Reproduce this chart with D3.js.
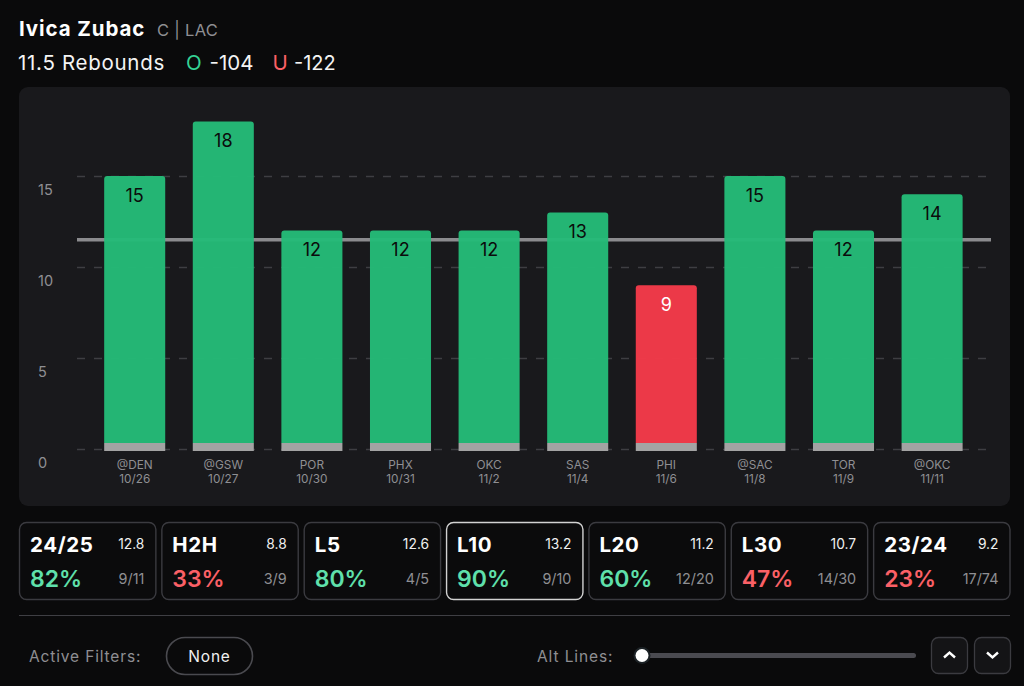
<!DOCTYPE html>
<html>
<head>
<meta charset="utf-8">
<script src="https://cdn.jsdelivr.net/npm/d3@7"></script>
<style>
  html, body { margin: 0; padding: 0; background: #0a0a0b; }
  svg { display: block; font-family: Inter, "Noto Sans", sans-serif; }
</style>
</head>
<body>
<svg id="chart" width="1024" height="686"></svg>
<script>
// chart values
const opponents = ['@DEN', '@GSW', 'POR', 'PHX', 'OKC', 'SAS', 'PHI', '@SAC', 'TOR', '@OKC'];
const dates = ['10/26', '10/27', '10/30', '10/31', '11/2', '11/4', '11/6', '11/8', '11/9', '11/11'];
const rebounds = [15, 18, 12, 12, 12, 13, 9, 15, 12, 14];
const propLine = 11.5;
const yTicks = [0, 5, 10, 15];

// summary cards
const cardLabels = ['24/25', 'H2H', 'L5', 'L10', 'L20', 'L30', '23/24'];
const cardAverages = ['12.8', '8.8', '12.6', '13.2', '11.2', '10.7', '9.2'];
const cardPercents = [82, 33, 80, 90, 60, 47, 23];
const cardRecords = ['9/11', '3/9', '4/5', '9/10', '12/20', '14/30', '17/74'];
const selectedCard = 'L10';

const GREEN = '#24bb78', RED = '#f53a4a', MINT = '#5fe0ab', CORAL = '#fb6066';
const GRAY = '#8f8f93', BORDER = '#3b3b40';

const svg = d3.select('#chart');

// text helper so the header and footer stay short
function label(parent, x, y, str, size, fill, weight, anchor, spacing) {
  return parent.append('text')
    .attr('x', x).attr('y', y)
    .attr('font-size', size).attr('fill', fill)
    .attr('font-weight', weight || 400)
    .attr('text-anchor', anchor || 'start')
    .attr('letter-spacing', spacing || 0)
    .text(str);
}

// Header
label(svg, 19, 36, 'Ivica Zubac', 20.5, '#fff', 700, 'start', 0.9);
label(svg, 157, 36, 'C | LAC', 16.5, GRAY, 400, 'start', 0.3);
label(svg, 18, 69.5, '11.5 Rebounds', 20.5, '#f4f4f4', 400, 'start', 0.7);
label(svg, 186, 69.5, 'O', 20.5, '#35d296');
label(svg, 209.5, 69.5, '-104', 20.5, '#f4f4f4');
label(svg, 272.5, 69.5, 'U', 20.5, CORAL);
label(svg, 294, 69.5, '-122', 20, '#f4f4f4');

// Chart panel
svg.append('rect')
  .attr('x', 19).attr('y', 87).attr('width', 991).attr('height', 419)
  .attr('rx', 9).attr('fill', '#19191c');

const y = d3.scaleLinear().domain([0, 15]).range([449, 176]);
const x = d3.scaleBand().domain(opponents).range([90.4, 976.4]).paddingInner(0.311).paddingOuter(0.1555);

// Dashed grid + value labels
const yAxis = svg.append('g')
  .attr('transform', 'translate(77,0)')
  .call(d3.axisRight(y).tickValues(yTicks).tickSize(914).tickFormat(d3.format('d')));
yAxis.select('.domain').remove();
yAxis.selectAll('.tick line')
  .attr('stroke', '#3e3e42').attr('stroke-width', 1.3).attr('stroke-dasharray', '8 9');
yAxis.selectAll('.tick text')
  .attr('x', -39).attr('dy', 18.5)
  .attr('text-anchor', 'start')
  .attr('font-family', 'Inter, sans-serif')
  .attr('font-size', 14.5).attr('fill', GRAY);

// Prop line sits under the slightly translucent bars
svg.append('line')
  .attr('x1', 77).attr('x2', 991)
  .attr('y1', y(propLine)).attr('y2', y(propLine))
  .attr('stroke', '#8b8b8e').attr('stroke-width', 3.5);

const bars = svg.append('g').selectAll('g')
  .data(rebounds)
  .join('g')
  .attr('transform', (d, i) => `translate(${x(opponents[i])},0)`);

bars.append('path')
  .attr('d', d => {
    const w = x.bandwidth(), top = y(d), r = 3, bottom = y(0) - 6;
    return `M0,${bottom}V${top + r}Q0,${top} ${r},${top}H${w - r}Q${w},${top} ${w},${top + r}V${bottom}Z`;
  })
  .attr('fill', d => d > propLine ? GREEN : RED)
  .attr('fill-opacity', 0.96);

bars.append('rect')
  .attr('y', y(0) - 6).attr('width', x.bandwidth()).attr('height', 8)
  .attr('fill', '#a3a3a3');

bars.append('text')
  .attr('x', x.bandwidth() / 2)
  .attr('y', d => y(d) + 25.5)
  .attr('text-anchor', 'middle')
  .attr('font-size', 18)
  .attr('fill', d => d > propLine ? '#0b0b0b' : '#fff')
  .text(d => d);

// Opponent / date labels
const xAxis = svg.append('g')
  .attr('transform', 'translate(0,449)')
  .call(d3.axisBottom(x).tickSize(0).tickFormat(() => ''));
xAxis.select('.domain').remove();
xAxis.selectAll('.tick text').each(function (d, i) {
  const t = d3.select(this)
    .attr('y', 0).attr('dy', 0)
    .attr('font-family', 'Inter, sans-serif')
    .attr('font-size', 11.8).attr('fill', GRAY);
  t.append('tspan').attr('x', 0).attr('y', 20).text(opponents[i]);
  t.append('tspan').attr('x', 0).attr('y', 34).text(dates[i]);
});

// Summary cards
const cardX = d3.scaleBand().domain(cardLabels).range([19, 1010.5]).paddingInner(0.035);
const cards = svg.append('g').selectAll('g')
  .data(cardLabels)
  .join('g')
  .attr('transform', d => `translate(${cardX(d)},522)`);

cards.append('rect')
  .attr('x', 0.5).attr('y', 0.5)
  .attr('width', cardX.bandwidth() - 1).attr('height', 77)
  .attr('rx', 7)
  .attr('fill', '#0b0b0c')
  .attr('stroke', d => d === selectedCard ? '#d2d2d2' : BORDER)
  .attr('stroke-width', 1.4);

cards.each(function (d, i) {
  const c = d3.select(this), right = cardX.bandwidth() - 12;
  label(c, 11, 30, d, 20.5, '#fff', 700, 'start', 0.6);
  label(c, right, 27, cardAverages[i], 13.8, '#f0f0f0', 400, 'end');
  label(c, 11, 65, cardPercents[i] + '%', 23, cardPercents[i] >= 50 ? MINT : CORAL, 600);
  label(c, right, 62, cardRecords[i], 14.4, GRAY, 400, 'end');
});

// Divider
svg.append('line')
  .attr('x1', 19).attr('x2', 1010).attr('y1', 615.5).attr('y2', 615.5)
  .attr('stroke', '#3f3f44').attr('stroke-width', 1.2);

// Footer controls
label(svg, 29, 662, 'Active Filters:', 15.5, GRAY, 400, 'start', 0.85);
svg.append('rect')
  .attr('x', 166.5).attr('y', 637.5).attr('width', 86).attr('height', 37)
  .attr('rx', 18.5).attr('fill', 'none').attr('stroke', '#4a4a4f').attr('stroke-width', 1.6);
label(svg, 209.5, 662, 'None', 15.5, '#f0f0f0', 400, 'middle', 0.8);

label(svg, 537, 662, 'Alt Lines:', 15.5, GRAY, 400, 'start', 0.9);
svg.append('rect')
  .attr('x', 642).attr('y', 653).attr('width', 274).attr('height', 5)
  .attr('rx', 2.5).attr('fill', '#4a4a50');
svg.append('circle').attr('cx', 642).attr('cy', 655.5).attr('r', 8.5).attr('fill', '#1c2226');
svg.append('circle').attr('cx', 642).attr('cy', 655.5).attr('r', 6.5).attr('fill', '#fff');

[[931, 'M-5.5,2.5L0,-2.5L5.5,2.5'], [974, 'M-5.5,-2.5L0,2.5L5.5,-2.5']].forEach(([bx, arrow]) => {
  svg.append('rect')
    .attr('x', bx + 0.5).attr('y', 637.5).attr('width', 36).attr('height', 36)
    .attr('rx', 7).attr('fill', '#141416').attr('stroke', BORDER).attr('stroke-width', 1.3);
  svg.append('path')
    .attr('transform', `translate(${bx + 18.5},655)`)
    .attr('d', arrow).attr('fill', 'none')
    .attr('stroke', '#fff').attr('stroke-width', 2.4);
});
</script>
</body>
</html>
